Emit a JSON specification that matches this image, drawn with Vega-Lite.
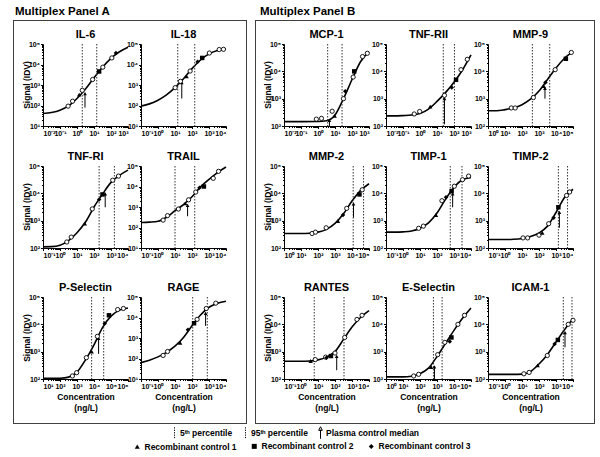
{
"$schema":"https://vega.github.io/schema/vega-lite/v6.json",
"padding":{"left":10,"top":5,"right":0,"bottom":0},
"background":"white",
"config":{
 "view":{"stroke":null},
 "font":"Liberation Sans",
 "axis":{"domainColor":"black","tickColor":"black","labelColor":"black","labelFont":"Liberation Sans","labelFontSize":7,"labelFontWeight":"bold","titleFont":"Liberation Sans","titleFontSize":8.5,"titleFontWeight":"bold","titleColor":"black","grid":false}
},
"datasets":{"all":[
{"p":"IL-6","r":"A1","k":"d","x":0.01,"y":10},{"p":"IL-6","r":"A1","k":"d","x":1000,"y":100000},
{"p":"IL-6","r":"A1","k":"c","x":0.01,"y":41},{"p":"IL-6","r":"A1","k":"c","x":0.0316,"y":46},{"p":"IL-6","r":"A1","k":"c","x":0.1,"y":59},{"p":"IL-6","r":"A1","k":"c","x":0.316,"y":95},{"p":"IL-6","r":"A1","k":"c","x":1,"y":219},{"p":"IL-6","r":"A1","k":"c","x":3.16,"y":631},{"p":"IL-6","r":"A1","k":"c","x":10,"y":2240},{"p":"IL-6","r":"A1","k":"c","x":31.6,"y":7410},{"p":"IL-6","r":"A1","k":"c","x":100,"y":20000},{"p":"IL-6","r":"A1","k":"c","x":316,"y":41700},{"p":"IL-6","r":"A1","k":"c","x":1000,"y":69200},
{"p":"IL-6","r":"A1","k":"s","x":0.3,"y":93},{"p":"IL-6","r":"A1","k":"s","x":0.55,"y":162},{"p":"IL-6","r":"A1","k":"s","x":2.04,"y":550},{"p":"IL-6","r":"A1","k":"s","x":8.3,"y":1860},{"p":"IL-6","r":"A1","k":"s","x":33,"y":7400},{"p":"IL-6","r":"A1","k":"s","x":112,"y":20900},
{"p":"IL-6","r":"A1","k":"r1","x":1.35,"y":339},{"p":"IL-6","r":"A1","k":"r2","x":20,"y":4570},{"p":"IL-6","r":"A1","k":"r3","x":195,"y":36300},
{"p":"IL-6","r":"A1","k":"p","x":2.04},{"p":"IL-6","r":"A1","k":"p","x":14.5},{"p":"IL-6","r":"A1","k":"a","x":2.95,"y":79,"y2":380},
{"p":"IL-18","r":"A1","k":"d","x":0.1,"y":10},{"p":"IL-18","r":"A1","k":"d","x":10000,"y":100000},
{"p":"IL-18","r":"A1","k":"c","x":0.1,"y":93},{"p":"IL-18","r":"A1","k":"c","x":0.316,"y":120},{"p":"IL-18","r":"A1","k":"c","x":1,"y":182},{"p":"IL-18","r":"A1","k":"c","x":3.16,"y":331},{"p":"IL-18","r":"A1","k":"c","x":10,"y":741},{"p":"IL-18","r":"A1","k":"c","x":31.6,"y":2000},{"p":"IL-18","r":"A1","k":"c","x":100,"y":6310},{"p":"IL-18","r":"A1","k":"c","x":316,"y":16600},{"p":"IL-18","r":"A1","k":"c","x":1000,"y":33100},{"p":"IL-18","r":"A1","k":"c","x":3160,"y":47900},{"p":"IL-18","r":"A1","k":"c","x":10000,"y":57500},
{"p":"IL-18","r":"A1","k":"s","x":10.2,"y":741},{"p":"IL-18","r":"A1","k":"s","x":20.9,"y":1510},{"p":"IL-18","r":"A1","k":"s","x":77.6,"y":4790},{"p":"IL-18","r":"A1","k":"s","x":1047,"y":36300},{"p":"IL-18","r":"A1","k":"s","x":3981,"y":53700},{"p":"IL-18","r":"A1","k":"s","x":7079,"y":55000},
{"p":"IL-18","r":"A1","k":"r1","x":47.9,"y":2630},{"p":"IL-18","r":"A1","k":"r2","x":398,"y":20900},{"p":"IL-18","r":"A1","k":"r3","x":214,"y":13500},
{"p":"IL-18","r":"A1","k":"p","x":14.5},{"p":"IL-18","r":"A1","k":"p","x":145},{"p":"IL-18","r":"A1","k":"a","x":25.1,"y":219,"y2":1290},
{"p":"TNF-RI","r":"A2","k":"d","x":0.1,"y":100},{"p":"TNF-RI","r":"A2","k":"d","x":10000,"y":100000},
{"p":"TNF-RI","r":"A2","k":"c","x":0.1,"y":110},{"p":"TNF-RI","r":"A2","k":"c","x":0.316,"y":112},{"p":"TNF-RI","r":"A2","k":"c","x":1,"y":126},{"p":"TNF-RI","r":"A2","k":"c","x":3.16,"y":186},{"p":"TNF-RI","r":"A2","k":"c","x":10,"y":363},{"p":"TNF-RI","r":"A2","k":"c","x":31.6,"y":891},{"p":"TNF-RI","r":"A2","k":"c","x":100,"y":3160},{"p":"TNF-RI","r":"A2","k":"c","x":316,"y":9330},{"p":"TNF-RI","r":"A2","k":"c","x":1000,"y":25100},{"p":"TNF-RI","r":"A2","k":"c","x":3160,"y":45700},{"p":"TNF-RI","r":"A2","k":"c","x":10000,"y":70800},
{"p":"TNF-RI","r":"A2","k":"s","x":2.51,"y":166},{"p":"TNF-RI","r":"A2","k":"s","x":4.57,"y":251},{"p":"TNF-RI","r":"A2","k":"s","x":79,"y":2690},{"p":"TNF-RI","r":"A2","k":"s","x":1259,"y":30200},{"p":"TNF-RI","r":"A2","k":"s","x":2754,"y":42700},
{"p":"TNF-RI","r":"A2","k":"r1","x":28.8,"y":776},{"p":"TNF-RI","r":"A2","k":"r2","x":316,"y":9120},{"p":"TNF-RI","r":"A2","k":"r3","x":200,"y":5890},
{"p":"TNF-RI","r":"A2","k":"p","x":200},{"p":"TNF-RI","r":"A2","k":"p","x":1585},{"p":"TNF-RI","r":"A2","k":"a","x":457,"y":3090,"y2":9550},
{"p":"TRAIL","r":"A2","k":"d","x":0.1,"y":10},{"p":"TRAIL","r":"A2","k":"d","x":10000,"y":100000},
{"p":"TRAIL","r":"A2","k":"c","x":0.1,"y":174},{"p":"TRAIL","r":"A2","k":"c","x":0.316,"y":182},{"p":"TRAIL","r":"A2","k":"c","x":1,"y":200},{"p":"TRAIL","r":"A2","k":"c","x":3.16,"y":316},{"p":"TRAIL","r":"A2","k":"c","x":10,"y":661},{"p":"TRAIL","r":"A2","k":"c","x":31.6,"y":1320},{"p":"TRAIL","r":"A2","k":"c","x":100,"y":3160},{"p":"TRAIL","r":"A2","k":"c","x":316,"y":9550},{"p":"TRAIL","r":"A2","k":"c","x":1000,"y":22400},{"p":"TRAIL","r":"A2","k":"c","x":3160,"y":47900},{"p":"TRAIL","r":"A2","k":"c","x":10000,"y":89100},
{"p":"TRAIL","r":"A2","k":"s","x":2.0,"y":229},{"p":"TRAIL","r":"A2","k":"s","x":3.63,"y":380},{"p":"TRAIL","r":"A2","k":"s","x":15.8,"y":794},{"p":"TRAIL","r":"A2","k":"s","x":63,"y":2240},{"p":"TRAIL","r":"A2","k":"s","x":166,"y":5370},{"p":"TRAIL","r":"A2","k":"s","x":1778,"y":25100},{"p":"TRAIL","r":"A2","k":"s","x":3631,"y":55000},
{"p":"TRAIL","r":"A2","k":"r1","x":39.8,"y":1510},{"p":"TRAIL","r":"A2","k":"r2","x":501,"y":10000},{"p":"TRAIL","r":"A2","k":"r3","x":275,"y":8710},
{"p":"TRAIL","r":"A2","k":"p","x":10},{"p":"TRAIL","r":"A2","k":"p","x":145},{"p":"TRAIL","r":"A2","k":"a","x":55,"y":355,"y2":1200},
{"p":"P-Selectin","r":"A3","k":"d","x":10,"y":100},{"p":"P-Selectin","r":"A3","k":"d","x":1000000,"y":100000},
{"p":"P-Selectin","r":"A3","k":"c","x":10,"y":105},{"p":"P-Selectin","r":"A3","k":"c","x":31.6,"y":105},{"p":"P-Selectin","r":"A3","k":"c","x":100,"y":107},{"p":"P-Selectin","r":"A3","k":"c","x":316,"y":117},{"p":"P-Selectin","r":"A3","k":"c","x":1000,"y":178},{"p":"P-Selectin","r":"A3","k":"c","x":3160,"y":501},{"p":"P-Selectin","r":"A3","k":"c","x":10000,"y":1780},{"p":"P-Selectin","r":"A3","k":"c","x":31600,"y":7590},{"p":"P-Selectin","r":"A3","k":"c","x":100000,"y":19950},{"p":"P-Selectin","r":"A3","k":"c","x":316000,"y":33100},{"p":"P-Selectin","r":"A3","k":"c","x":1000000,"y":39800},
{"p":"P-Selectin","r":"A3","k":"s","x":537,"y":129},{"p":"P-Selectin","r":"A3","k":"s","x":955,"y":170},{"p":"P-Selectin","r":"A3","k":"s","x":3548,"y":603},{"p":"P-Selectin","r":"A3","k":"s","x":15850,"y":3630},{"p":"P-Selectin","r":"A3","k":"s","x":245500,"y":34700},{"p":"P-Selectin","r":"A3","k":"s","x":537000,"y":38000},
{"p":"P-Selectin","r":"A3","k":"r1","x":7244,"y":1000},{"p":"P-Selectin","r":"A3","k":"r2","x":75860,"y":21400},{"p":"P-Selectin","r":"A3","k":"r3","x":42660,"y":10700},
{"p":"P-Selectin","r":"A3","k":"p","x":7244},{"p":"P-Selectin","r":"A3","k":"p","x":37150},{"p":"P-Selectin","r":"A3","k":"a","x":18620,"y":832,"y2":3090},
{"p":"RAGE","r":"A3","k":"d","x":0.1,"y":10},{"p":"RAGE","r":"A3","k":"d","x":10000,"y":100000},
{"p":"RAGE","r":"A3","k":"c","x":0.1,"y":63},{"p":"RAGE","r":"A3","k":"c","x":0.316,"y":83},{"p":"RAGE","r":"A3","k":"c","x":1,"y":120},{"p":"RAGE","r":"A3","k":"c","x":3.16,"y":200},{"p":"RAGE","r":"A3","k":"c","x":10,"y":398},{"p":"RAGE","r":"A3","k":"c","x":31.6,"y":1047},{"p":"RAGE","r":"A3","k":"c","x":100,"y":3980},{"p":"RAGE","r":"A3","k":"c","x":316,"y":13200},{"p":"RAGE","r":"A3","k":"c","x":1000,"y":31600},{"p":"RAGE","r":"A3","k":"c","x":3160,"y":50100},{"p":"RAGE","r":"A3","k":"c","x":10000,"y":61700},
{"p":"RAGE","r":"A3","k":"s","x":2.0,"y":141},{"p":"RAGE","r":"A3","k":"s","x":3.63,"y":219},{"p":"RAGE","r":"A3","k":"s","x":200,"y":8130},{"p":"RAGE","r":"A3","k":"s","x":692,"y":27500},{"p":"RAGE","r":"A3","k":"s","x":2512,"y":50100},
{"p":"RAGE","r":"A3","k":"r1","x":20,"y":575},{"p":"RAGE","r":"A3","k":"r2","x":132,"y":5250},{"p":"RAGE","r":"A3","k":"r3","x":57.5,"y":2510},
{"p":"RAGE","r":"A3","k":"p","x":110},{"p":"RAGE","r":"A3","k":"p","x":794},{"p":"RAGE","r":"A3","k":"a","x":631,"y":3890,"y2":15850},
{"p":"MCP-1","r":"B1","k":"d","x":0.01,"y":100},{"p":"MCP-1","r":"B1","k":"d","x":1000,"y":100000},
{"p":"MCP-1","r":"B1","k":"c","x":0.01,"y":145},{"p":"MCP-1","r":"B1","k":"c","x":0.1,"y":145},{"p":"MCP-1","r":"B1","k":"c","x":1,"y":147},{"p":"MCP-1","r":"B1","k":"c","x":3.16,"y":155},{"p":"MCP-1","r":"B1","k":"c","x":10,"y":251},{"p":"MCP-1","r":"B1","k":"c","x":31.6,"y":1000},{"p":"MCP-1","r":"B1","k":"c","x":100,"y":5010},{"p":"MCP-1","r":"B1","k":"c","x":316,"y":22400},{"p":"MCP-1","r":"B1","k":"c","x":1000,"y":52500},
{"p":"MCP-1","r":"B1","k":"s","x":0.8,"y":178},{"p":"MCP-1","r":"B1","k":"s","x":1.6,"y":190},{"p":"MCP-1","r":"B1","k":"s","x":6.8,"y":347},{"p":"MCP-1","r":"B1","k":"s","x":31.6,"y":1000},{"p":"MCP-1","r":"B1","k":"s","x":117,"y":6170},{"p":"MCP-1","r":"B1","k":"s","x":417,"y":34700},{"p":"MCP-1","r":"B1","k":"s","x":794,"y":45700},
{"p":"MCP-1","r":"B1","k":"r1","x":9.5,"y":234},{"p":"MCP-1","r":"B1","k":"r2","x":135,"y":10000},{"p":"MCP-1","r":"B1","k":"r3","x":40,"y":1860},
{"p":"MCP-1","r":"B1","k":"p","x":3.7},{"p":"MCP-1","r":"B1","k":"p","x":26},{"p":"MCP-1","r":"B1","k":"a","x":4.7,"y":100,"y2":160},
{"p":"TNF-RII","r":"B1","k":"d","x":0.01,"y":100},{"p":"TNF-RII","r":"B1","k":"d","x":1000,"y":100000},
{"p":"TNF-RII","r":"B1","k":"c","x":0.01,"y":234},{"p":"TNF-RII","r":"B1","k":"c","x":0.0316,"y":234},{"p":"TNF-RII","r":"B1","k":"c","x":0.1,"y":240},{"p":"TNF-RII","r":"B1","k":"c","x":0.316,"y":251},{"p":"TNF-RII","r":"B1","k":"c","x":1,"y":288},{"p":"TNF-RII","r":"B1","k":"c","x":3.16,"y":417},{"p":"TNF-RII","r":"B1","k":"c","x":10,"y":794},{"p":"TNF-RII","r":"B1","k":"c","x":31.6,"y":1660},{"p":"TNF-RII","r":"B1","k":"c","x":100,"y":3980},{"p":"TNF-RII","r":"B1","k":"c","x":316,"y":11200},{"p":"TNF-RII","r":"B1","k":"c","x":1000,"y":39800},
{"p":"TNF-RII","r":"B1","k":"s","x":0.457,"y":275},{"p":"TNF-RII","r":"B1","k":"s","x":0.955,"y":339},{"p":"TNF-RII","r":"B1","k":"s","x":27.5,"y":1320},{"p":"TNF-RII","r":"B1","k":"s","x":257,"y":11500},{"p":"TNF-RII","r":"B1","k":"s","x":603,"y":27500},
{"p":"TNF-RII","r":"B1","k":"r1","x":3.98,"y":513},{"p":"TNF-RII","r":"B1","k":"r2","x":132,"y":4900},{"p":"TNF-RII","r":"B1","k":"r3","x":74,"y":2570},
{"p":"TNF-RII","r":"B1","k":"p","x":23.4},{"p":"TNF-RII","r":"B1","k":"p","x":107},{"p":"TNF-RII","r":"B1","k":"a","x":27.5,"y":115,"y2":1000},
{"p":"MMP-9","r":"B1","k":"d","x":1,"y":100},{"p":"MMP-9","r":"B1","k":"d","x":100000,"y":100000},
{"p":"MMP-9","r":"B1","k":"c","x":1,"y":363},{"p":"MMP-9","r":"B1","k":"c","x":3.16,"y":363},{"p":"MMP-9","r":"B1","k":"c","x":10,"y":398},{"p":"MMP-9","r":"B1","k":"c","x":31.6,"y":457},{"p":"MMP-9","r":"B1","k":"c","x":100,"y":603},{"p":"MMP-9","r":"B1","k":"c","x":316,"y":955},{"p":"MMP-9","r":"B1","k":"c","x":1000,"y":1905},{"p":"MMP-9","r":"B1","k":"c","x":3162,"y":5010},{"p":"MMP-9","r":"B1","k":"c","x":10000,"y":13200},{"p":"MMP-9","r":"B1","k":"c","x":31620,"y":30200},{"p":"MMP-9","r":"B1","k":"c","x":100000,"y":52500},
{"p":"MMP-9","r":"B1","k":"s","x":23.4,"y":457},{"p":"MMP-9","r":"B1","k":"s","x":39.8,"y":457},{"p":"MMP-9","r":"B1","k":"s","x":468,"y":1100},{"p":"MMP-9","r":"B1","k":"s","x":8913,"y":11500},{"p":"MMP-9","r":"B1","k":"s","x":79430,"y":49000},
{"p":"MMP-9","r":"B1","k":"r1","x":1905,"y":2880},{"p":"MMP-9","r":"B1","k":"r2","x":38020,"y":28800},{"p":"MMP-9","r":"B1","k":"r3","x":2399,"y":3890},
{"p":"MMP-9","r":"B1","k":"p","x":407},{"p":"MMP-9","r":"B1","k":"p","x":4266},{"p":"MMP-9","r":"B1","k":"a","x":2240,"y":1000,"y2":2400},
{"p":"MMP-2","r":"B2","k":"d","x":1,"y":100},{"p":"MMP-2","r":"B2","k":"d","x":100000,"y":100000},
{"p":"MMP-2","r":"B2","k":"c","x":1,"y":339},{"p":"MMP-2","r":"B2","k":"c","x":3.16,"y":339},{"p":"MMP-2","r":"B2","k":"c","x":10,"y":339},{"p":"MMP-2","r":"B2","k":"c","x":31.6,"y":347},{"p":"MMP-2","r":"B2","k":"c","x":100,"y":380},{"p":"MMP-2","r":"B2","k":"c","x":316,"y":479},{"p":"MMP-2","r":"B2","k":"c","x":1000,"y":794},{"p":"MMP-2","r":"B2","k":"c","x":3162,"y":1780},{"p":"MMP-2","r":"B2","k":"c","x":10000,"y":5250},{"p":"MMP-2","r":"B2","k":"c","x":31620,"y":12600},{"p":"MMP-2","r":"B2","k":"c","x":100000,"y":22400},
{"p":"MMP-2","r":"B2","k":"s","x":44.7,"y":339},{"p":"MMP-2","r":"B2","k":"s","x":70.8,"y":380},{"p":"MMP-2","r":"B2","k":"s","x":302,"y":550},{"p":"MMP-2","r":"B2","k":"s","x":4898,"y":2820},{"p":"MMP-2","r":"B2","k":"s","x":39810,"y":13500},
{"p":"MMP-2","r":"B2","k":"r1","x":1479,"y":977},{"p":"MMP-2","r":"B2","k":"r2","x":27540,"y":9120},{"p":"MMP-2","r":"B2","k":"r3","x":2951,"y":1620},
{"p":"MMP-2","r":"B2","k":"p","x":11750},{"p":"MMP-2","r":"B2","k":"p","x":47860},{"p":"MMP-2","r":"B2","k":"a","x":12300,"y":1320,"y2":4070},
{"p":"TIMP-1","r":"B2","k":"d","x":0.1,"y":100},{"p":"TIMP-1","r":"B2","k":"d","x":10000,"y":100000},
{"p":"TIMP-1","r":"B2","k":"c","x":0.1,"y":380},{"p":"TIMP-1","r":"B2","k":"c","x":0.316,"y":380},{"p":"TIMP-1","r":"B2","k":"c","x":1,"y":389},{"p":"TIMP-1","r":"B2","k":"c","x":3.16,"y":417},{"p":"TIMP-1","r":"B2","k":"c","x":10,"y":525},{"p":"TIMP-1","r":"B2","k":"c","x":31.6,"y":832},{"p":"TIMP-1","r":"B2","k":"c","x":100,"y":1905},{"p":"TIMP-1","r":"B2","k":"c","x":316,"y":6030},{"p":"TIMP-1","r":"B2","k":"c","x":1000,"y":16600},{"p":"TIMP-1","r":"B2","k":"c","x":3162,"y":31600},{"p":"TIMP-1","r":"B2","k":"c","x":10000,"y":38000},
{"p":"TIMP-1","r":"B2","k":"s","x":8.3,"y":525},{"p":"TIMP-1","r":"B2","k":"s","x":15.8,"y":631},{"p":"TIMP-1","r":"B2","k":"s","x":195,"y":5370},{"p":"TIMP-1","r":"B2","k":"s","x":1047,"y":18200},{"p":"TIMP-1","r":"B2","k":"s","x":3162,"y":31600},{"p":"TIMP-1","r":"B2","k":"s","x":7244,"y":42700},
{"p":"TIMP-1","r":"B2","k":"r1","x":87,"y":1620},{"p":"TIMP-1","r":"B2","k":"r2","x":724,"y":12000},{"p":"TIMP-1","r":"B2","k":"r3","x":339,"y":7240},
{"p":"TIMP-1","r":"B2","k":"p","x":603},{"p":"TIMP-1","r":"B2","k":"p","x":2951},{"p":"TIMP-1","r":"B2","k":"a","x":832,"y":3090,"y2":9550},
{"p":"TIMP-2","r":"B2","k":"d","x":0.1,"y":100},{"p":"TIMP-2","r":"B2","k":"d","x":10000,"y":100000},
{"p":"TIMP-2","r":"B2","k":"c","x":0.1,"y":204},{"p":"TIMP-2","r":"B2","k":"c","x":0.316,"y":204},{"p":"TIMP-2","r":"B2","k":"c","x":1,"y":204},{"p":"TIMP-2","r":"B2","k":"c","x":3.16,"y":209},{"p":"TIMP-2","r":"B2","k":"c","x":10,"y":224},{"p":"TIMP-2","r":"B2","k":"c","x":31.6,"y":263},{"p":"TIMP-2","r":"B2","k":"c","x":100,"y":355},{"p":"TIMP-2","r":"B2","k":"c","x":316,"y":631},{"p":"TIMP-2","r":"B2","k":"c","x":1000,"y":1995},{"p":"TIMP-2","r":"B2","k":"c","x":3162,"y":7080},{"p":"TIMP-2","r":"B2","k":"c","x":10000,"y":14100},
{"p":"TIMP-2","r":"B2","k":"s","x":11.5,"y":234},{"p":"TIMP-2","r":"B2","k":"s","x":21.4,"y":234},{"p":"TIMP-2","r":"B2","k":"s","x":100,"y":295},{"p":"TIMP-2","r":"B2","k":"s","x":372,"y":776},{"p":"TIMP-2","r":"B2","k":"s","x":4169,"y":8320},{"p":"TIMP-2","r":"B2","k":"s","x":6310,"y":11200},
{"p":"TIMP-2","r":"B2","k":"r1","x":155,"y":363},{"p":"TIMP-2","r":"B2","k":"r2","x":1380,"y":3090},{"p":"TIMP-2","r":"B2","k":"r3","x":724,"y":1290},
{"p":"TIMP-2","r":"B2","k":"p","x":1380},{"p":"TIMP-2","r":"B2","k":"p","x":4786},{"p":"TIMP-2","r":"B2","k":"a","x":1585,"y":550,"y2":2000},
{"p":"RANTES","r":"B3","k":"d","x":0.1,"y":100},{"p":"RANTES","r":"B3","k":"d","x":10000,"y":100000},
{"p":"RANTES","r":"B3","k":"c","x":0.1,"y":447},{"p":"RANTES","r":"B3","k":"c","x":0.316,"y":447},{"p":"RANTES","r":"B3","k":"c","x":1,"y":447},{"p":"RANTES","r":"B3","k":"c","x":3.16,"y":457},{"p":"RANTES","r":"B3","k":"c","x":10,"y":501},{"p":"RANTES","r":"B3","k":"c","x":31.6,"y":631},{"p":"RANTES","r":"B3","k":"c","x":100,"y":1000},{"p":"RANTES","r":"B3","k":"c","x":316,"y":2820},{"p":"RANTES","r":"B3","k":"c","x":1000,"y":7940},{"p":"RANTES","r":"B3","k":"c","x":3162,"y":17800},{"p":"RANTES","r":"B3","k":"c","x":10000,"y":31600},
{"p":"RANTES","r":"B3","k":"s","x":6.9,"y":513},{"p":"RANTES","r":"B3","k":"s","x":28.2,"y":631},{"p":"RANTES","r":"B3","k":"s","x":100,"y":891},{"p":"RANTES","r":"B3","k":"s","x":372,"y":3310},{"p":"RANTES","r":"B3","k":"s","x":1950,"y":15100},{"p":"RANTES","r":"B3","k":"s","x":3890,"y":21400},
{"p":"RANTES","r":"B3","k":"r1","x":3.7,"y":457},{"p":"RANTES","r":"B3","k":"r2","x":57.5,"y":692},{"p":"RANTES","r":"B3","k":"r3","x":31.6,"y":603},
{"p":"RANTES","r":"B3","k":"p","x":6.0},{"p":"RANTES","r":"B3","k":"p","x":339},{"p":"RANTES","r":"B3","k":"a","x":126,"y":209,"y2":676},
{"p":"E-Selectin","r":"B3","k":"d","x":1,"y":100},{"p":"E-Selectin","r":"B3","k":"d","x":100000,"y":100000},
{"p":"E-Selectin","r":"B3","k":"c","x":1,"y":120},{"p":"E-Selectin","r":"B3","k":"c","x":3.16,"y":120},{"p":"E-Selectin","r":"B3","k":"c","x":10,"y":120},{"p":"E-Selectin","r":"B3","k":"c","x":31.6,"y":126},{"p":"E-Selectin","r":"B3","k":"c","x":100,"y":158},{"p":"E-Selectin","r":"B3","k":"c","x":316,"y":251},{"p":"E-Selectin","r":"B3","k":"c","x":1000,"y":661},{"p":"E-Selectin","r":"B3","k":"c","x":3162,"y":2000},{"p":"E-Selectin","r":"B3","k":"c","x":10000,"y":6030},{"p":"E-Selectin","r":"B3","k":"c","x":31620,"y":16600},{"p":"E-Selectin","r":"B3","k":"c","x":100000,"y":39800},
{"p":"E-Selectin","r":"B3","k":"s","x":42.7,"y":129},{"p":"E-Selectin","r":"B3","k":"s","x":83,"y":148},{"p":"E-Selectin","r":"B3","k":"s","x":1096,"y":776},{"p":"E-Selectin","r":"B3","k":"s","x":2884,"y":2190},{"p":"E-Selectin","r":"B3","k":"s","x":17000,"y":10000},{"p":"E-Selectin","r":"B3","k":"s","x":41690,"y":21400},
{"p":"E-Selectin","r":"B3","k":"r1","x":447,"y":275},{"p":"E-Selectin","r":"B3","k":"r2","x":7079,"y":3310},{"p":"E-Selectin","r":"B3","k":"r3","x":5623,"y":2340},
{"p":"E-Selectin","r":"B3","k":"p","x":617},{"p":"E-Selectin","r":"B3","k":"p","x":1995},{"p":"E-Selectin","r":"B3","k":"a","x":708,"y":100,"y2":275},
{"p":"ICAM-1","r":"B3","k":"d","x":0.1,"y":100},{"p":"ICAM-1","r":"B3","k":"d","x":10000,"y":100000},
{"p":"ICAM-1","r":"B3","k":"c","x":0.1,"y":148},{"p":"ICAM-1","r":"B3","k":"c","x":0.316,"y":148},{"p":"ICAM-1","r":"B3","k":"c","x":1,"y":148},{"p":"ICAM-1","r":"B3","k":"c","x":3.16,"y":148},{"p":"ICAM-1","r":"B3","k":"c","x":10,"y":151},{"p":"ICAM-1","r":"B3","k":"c","x":31.6,"y":186},{"p":"ICAM-1","r":"B3","k":"c","x":100,"y":355},{"p":"ICAM-1","r":"B3","k":"c","x":316,"y":794},{"p":"ICAM-1","r":"B3","k":"c","x":1000,"y":2240},{"p":"ICAM-1","r":"B3","k":"c","x":3162,"y":6310},{"p":"ICAM-1","r":"B3","k":"c","x":10000,"y":15850},
{"p":"ICAM-1","r":"B3","k":"s","x":12.9,"y":155},{"p":"ICAM-1","r":"B3","k":"s","x":26.3,"y":174},{"p":"ICAM-1","r":"B3","k":"s","x":309,"y":724},{"p":"ICAM-1","r":"B3","k":"s","x":5248,"y":10000},{"p":"ICAM-1","r":"B3","k":"s","x":10000,"y":14100},
{"p":"ICAM-1","r":"B3","k":"r1","x":83,"y":316},{"p":"ICAM-1","r":"B3","k":"r2","x":1288,"y":2690},{"p":"ICAM-1","r":"B3","k":"r3","x":832,"y":1905},
{"p":"ICAM-1","r":"B3","k":"p","x":2692},{"p":"ICAM-1","r":"B3","k":"p","x":8710},{"p":"ICAM-1","r":"B3","k":"a","x":3388,"y":1445,"y2":5010}
]},
"vconcat":[
 {"hconcat":[
  {"title":{"text":"Multiplex Panel A","anchor":"start","fontSize":11.5,"fontWeight":"bold","font":"Liberation Sans","color":"black","offset":3,"dx":2},
   "hconcat":[
    {"width":1,"height":404,"data":{"values":[]},"mark":"point","view":{"fill":"#404040","stroke":null}},
    {"vconcat":[
      {"width":232,"height":1,"data":{"values":[]},"mark":"point","view":{"fill":"#404040","stroke":null}},
      {"hconcat":[
        {"width":1,"height":402,"data":{"values":[]},"mark":"point"},
        {"vconcat":[
          {"width":1,"height":1,"data":{"values":[]},"mark":"point"},
          {"vconcat":[
            {"vconcat":[
              {"data":{"name":"all"},"transform":[{"filter":"datum.r=='A1'"}],
               "facet":{"row":{"field":"r","type":"nominal","header":{"title":null,"labelExpr":"'Signal (IDV)'","labelAngle":-90,"labelOrient":"left","labelFontSize":8.5,"labelFontWeight":"bold","labelFont":"Liberation Sans","labelColor":"black","labelPadding":8}},
                        "column":{"field":"p","type":"nominal","sort":["IL-6","IL-18"],"header":{"title":null,"labelFontSize":11,"labelFontWeight":"bold","labelFont":"Liberation Sans","labelColor":"black","labelPadding":4}}},
               "bounds":"flush","spacing":{"column":13,"row":0},
               "resolve":{"scale":{"x":"independent","y":"independent"}},
               "spec":{"width":85,"height":82,"resolve":{"axis":{"x":"independent","y":"independent"}},"layer":[
                 {"transform":[{"filter":"datum.k=='d'"}],"mark":{"type":"point","opacity":0},"encoding":{"x":{"field":"x","type":"quantitative","scale":{"type":"log","nice":false},"axis":{"orient":"bottom","title":null,"values":[0.01,0.1,1,10,100,1000,10000,100000,1000000],"tickCount":100,"labelExpr":"'10'+(datum.value<0.9?'⁻':'')+substring('⁰¹²³⁴⁵⁶⁷⁸⁹',abs(round(log(datum.value)/LN10)),abs(round(log(datum.value)/LN10))+1)","tickSize":2.5,"labelOverlap":false,"labelBound":false,"labelPadding":1}},"y":{"field":"y","type":"quantitative","scale":{"type":"log","nice":false},"axis":{"orient":"left","title":null,"values":[10,100,1000,10000,100000],"tickCount":100,"labelExpr":"'10'+(datum.value<0.9?'⁻':'')+substring('⁰¹²³⁴⁵⁶⁷⁸⁹',abs(round(log(datum.value)/LN10)),abs(round(log(datum.value)/LN10))+1)","tickSize":2.5,"labelOverlap":false,"labelBound":false,"labelPadding":1}}}},
                 {"transform":[{"filter":"datum.k=='c'"}],"mark":{"type":"line","interpolate":"monotone","color":"black","strokeWidth":1.6},"encoding":{"x":{"field":"x","type":"quantitative","scale":{"type":"log"},"axis":{"orient":"bottom","title":null,"values":[0.02,0.03,0.04,0.05,0.06,0.07,0.08,0.09,0.2,0.3,0.4,0.5,0.6,0.7,0.8,0.9,2,3,4,5,6,7,8,9,20,30,40,50,60,70,80,90,200,300,400,500,600,700,800,900,2000,3000,4000,5000,6000,7000,8000,9000,20000,30000,40000,50000,60000,70000,80000,90000,200000,300000,400000,500000,600000,700000,800000,900000],"tickCount":100,"labels":false,"domain":false,"tickSize":1.5}},"y":{"field":"y","type":"quantitative","scale":{"type":"log"},"axis":{"orient":"left","title":null,"values":[20,30,40,50,60,70,80,90,200,300,400,500,600,700,800,900,2000,3000,4000,5000,6000,7000,8000,9000,20000,30000,40000,50000,60000,70000,80000,90000],"tickCount":100,"labels":false,"domain":false,"tickSize":1.5}}}},
                 {"transform":[{"filter":"datum.k=='p'"}],"mark":{"type":"rule","strokeDash":[1.5,1.5],"strokeWidth":1,"color":"#333"},"encoding":{"x":{"field":"x","type":"quantitative","scale":{"type":"log"},"axis":null}}},
                 {"transform":[{"filter":"datum.k=='a'"}],"mark":{"type":"rule","color":"black","strokeWidth":1},"encoding":{"x":{"field":"x","type":"quantitative","scale":{"type":"log"},"axis":null},"y":{"field":"y","type":"quantitative","scale":{"type":"log"},"axis":null},"y2":{"field":"y2"}}},
                 {"transform":[{"filter":"datum.k=='a'"}],"mark":{"type":"point","shape":"triangle-up","filled":true,"color":"black","size":14,"opacity":1},"encoding":{"x":{"field":"x","type":"quantitative","scale":{"type":"log"},"axis":null},"y":{"field":"y2","type":"quantitative","scale":{"type":"log"},"axis":null}}},
                 {"transform":[{"filter":"datum.k=='s'"}],"mark":{"type":"point","shape":"circle","filled":true,"fill":"white","stroke":"black","strokeWidth":0.9,"size":18,"opacity":1},"encoding":{"x":{"field":"x","type":"quantitative","scale":{"type":"log"},"axis":null},"y":{"field":"y","type":"quantitative","scale":{"type":"log"},"axis":null}}},
                 {"transform":[{"filter":"datum.k=='r1'||datum.k=='r2'||datum.k=='r3'"}],"mark":{"type":"point","filled":true,"color":"black","size":20,"opacity":1},"encoding":{"x":{"field":"x","type":"quantitative","scale":{"type":"log"},"axis":null},"y":{"field":"y","type":"quantitative","scale":{"type":"log"},"axis":null},"shape":{"field":"k","type":"nominal","scale":{"domain":["r1","r2","r3"],"range":["triangle-up","square","diamond"]},"legend":null}}}
               ]}},
              {"data":{"name":"all"},"transform":[{"filter":"datum.r=='A2'"}],
               "facet":{"row":{"field":"r","type":"nominal","header":{"title":null,"labelExpr":"'Signal (IDV)'","labelAngle":-90,"labelOrient":"left","labelFontSize":8.5,"labelFontWeight":"bold","labelFont":"Liberation Sans","labelColor":"black","labelPadding":8}},
                        "column":{"field":"p","type":"nominal","sort":["TNF-RI","TRAIL"],"header":{"title":null,"labelFontSize":11,"labelFontWeight":"bold","labelFont":"Liberation Sans","labelColor":"black","labelPadding":4}}},
               "bounds":"flush","spacing":{"column":13,"row":0},
               "resolve":{"scale":{"x":"independent","y":"independent"}},
               "spec":{"width":85,"height":82,"resolve":{"axis":{"x":"independent","y":"independent"}},"layer":[
                 {"transform":[{"filter":"datum.k=='d'"}],"mark":{"type":"point","opacity":0},"encoding":{"x":{"field":"x","type":"quantitative","scale":{"type":"log","nice":false},"axis":{"orient":"bottom","title":null,"values":[0.01,0.1,1,10,100,1000,10000,100000,1000000],"tickCount":100,"labelExpr":"'10'+(datum.value<0.9?'⁻':'')+substring('⁰¹²³⁴⁵⁶⁷⁸⁹',abs(round(log(datum.value)/LN10)),abs(round(log(datum.value)/LN10))+1)","tickSize":2.5,"labelOverlap":false,"labelBound":false,"labelPadding":1}},"y":{"field":"y","type":"quantitative","scale":{"type":"log","nice":false},"axis":{"orient":"left","title":null,"values":[10,100,1000,10000,100000],"tickCount":100,"labelExpr":"'10'+(datum.value<0.9?'⁻':'')+substring('⁰¹²³⁴⁵⁶⁷⁸⁹',abs(round(log(datum.value)/LN10)),abs(round(log(datum.value)/LN10))+1)","tickSize":2.5,"labelOverlap":false,"labelBound":false,"labelPadding":1}}}},
                 {"transform":[{"filter":"datum.k=='c'"}],"mark":{"type":"line","interpolate":"monotone","color":"black","strokeWidth":1.6},"encoding":{"x":{"field":"x","type":"quantitative","scale":{"type":"log"},"axis":{"orient":"bottom","title":null,"values":[0.02,0.03,0.04,0.05,0.06,0.07,0.08,0.09,0.2,0.3,0.4,0.5,0.6,0.7,0.8,0.9,2,3,4,5,6,7,8,9,20,30,40,50,60,70,80,90,200,300,400,500,600,700,800,900,2000,3000,4000,5000,6000,7000,8000,9000,20000,30000,40000,50000,60000,70000,80000,90000,200000,300000,400000,500000,600000,700000,800000,900000],"tickCount":100,"labels":false,"domain":false,"tickSize":1.5}},"y":{"field":"y","type":"quantitative","scale":{"type":"log"},"axis":{"orient":"left","title":null,"values":[20,30,40,50,60,70,80,90,200,300,400,500,600,700,800,900,2000,3000,4000,5000,6000,7000,8000,9000,20000,30000,40000,50000,60000,70000,80000,90000],"tickCount":100,"labels":false,"domain":false,"tickSize":1.5}}}},
                 {"transform":[{"filter":"datum.k=='p'"}],"mark":{"type":"rule","strokeDash":[1.5,1.5],"strokeWidth":1,"color":"#333"},"encoding":{"x":{"field":"x","type":"quantitative","scale":{"type":"log"},"axis":null}}},
                 {"transform":[{"filter":"datum.k=='a'"}],"mark":{"type":"rule","color":"black","strokeWidth":1},"encoding":{"x":{"field":"x","type":"quantitative","scale":{"type":"log"},"axis":null},"y":{"field":"y","type":"quantitative","scale":{"type":"log"},"axis":null},"y2":{"field":"y2"}}},
                 {"transform":[{"filter":"datum.k=='a'"}],"mark":{"type":"point","shape":"triangle-up","filled":true,"color":"black","size":14,"opacity":1},"encoding":{"x":{"field":"x","type":"quantitative","scale":{"type":"log"},"axis":null},"y":{"field":"y2","type":"quantitative","scale":{"type":"log"},"axis":null}}},
                 {"transform":[{"filter":"datum.k=='s'"}],"mark":{"type":"point","shape":"circle","filled":true,"fill":"white","stroke":"black","strokeWidth":0.9,"size":18,"opacity":1},"encoding":{"x":{"field":"x","type":"quantitative","scale":{"type":"log"},"axis":null},"y":{"field":"y","type":"quantitative","scale":{"type":"log"},"axis":null}}},
                 {"transform":[{"filter":"datum.k=='r1'||datum.k=='r2'||datum.k=='r3'"}],"mark":{"type":"point","filled":true,"color":"black","size":20,"opacity":1},"encoding":{"x":{"field":"x","type":"quantitative","scale":{"type":"log"},"axis":null},"y":{"field":"y","type":"quantitative","scale":{"type":"log"},"axis":null},"shape":{"field":"k","type":"nominal","scale":{"domain":["r1","r2","r3"],"range":["triangle-up","square","diamond"]},"legend":null}}}
               ]}}
            ],"spacing":14},
            {"data":{"name":"all"},"transform":[{"filter":"datum.r=='A3'"}],
             "facet":{"row":{"field":"r","type":"nominal","header":{"title":null,"labelExpr":"'Signal (IDV)'","labelAngle":-90,"labelOrient":"left","labelFontSize":8.5,"labelFontWeight":"bold","labelFont":"Liberation Sans","labelColor":"black","labelPadding":8}},
                      "column":{"field":"p","type":"nominal","sort":["P-Selectin","RAGE"],"header":{"title":null,"labelFontSize":11,"labelFontWeight":"bold","labelFont":"Liberation Sans","labelColor":"black","labelPadding":4}}},
             "bounds":"flush","spacing":{"column":13,"row":0},
             "resolve":{"scale":{"x":"independent","y":"independent"}},
             "spec":{"width":85,"height":82,"resolve":{"axis":{"x":"independent","y":"independent"}},"layer":[
               {"transform":[{"filter":"datum.k=='d'"}],"mark":{"type":"point","opacity":0},"encoding":{"x":{"field":"x","type":"quantitative","scale":{"type":"log","nice":false},"axis":{"orient":"bottom","title":["Concentration","(ng/L)"],"titlePadding":3,"values":[0.01,0.1,1,10,100,1000,10000,100000,1000000],"tickCount":100,"labelExpr":"'10'+(datum.value<0.9?'⁻':'')+substring('⁰¹²³⁴⁵⁶⁷⁸⁹',abs(round(log(datum.value)/LN10)),abs(round(log(datum.value)/LN10))+1)","tickSize":2.5,"labelOverlap":false,"labelBound":false,"labelPadding":1}},"y":{"field":"y","type":"quantitative","scale":{"type":"log","nice":false},"axis":{"orient":"left","title":null,"values":[10,100,1000,10000,100000],"tickCount":100,"labelExpr":"'10'+(datum.value<0.9?'⁻':'')+substring('⁰¹²³⁴⁵⁶⁷⁸⁹',abs(round(log(datum.value)/LN10)),abs(round(log(datum.value)/LN10))+1)","tickSize":2.5,"labelOverlap":false,"labelBound":false,"labelPadding":1}}}},
               {"transform":[{"filter":"datum.k=='c'"}],"mark":{"type":"line","interpolate":"monotone","color":"black","strokeWidth":1.6},"encoding":{"x":{"field":"x","type":"quantitative","scale":{"type":"log"},"axis":{"orient":"bottom","title":null,"values":[0.02,0.03,0.04,0.05,0.06,0.07,0.08,0.09,0.2,0.3,0.4,0.5,0.6,0.7,0.8,0.9,2,3,4,5,6,7,8,9,20,30,40,50,60,70,80,90,200,300,400,500,600,700,800,900,2000,3000,4000,5000,6000,7000,8000,9000,20000,30000,40000,50000,60000,70000,80000,90000,200000,300000,400000,500000,600000,700000,800000,900000],"tickCount":100,"labels":false,"domain":false,"tickSize":1.5}},"y":{"field":"y","type":"quantitative","scale":{"type":"log"},"axis":{"orient":"left","title":null,"values":[20,30,40,50,60,70,80,90,200,300,400,500,600,700,800,900,2000,3000,4000,5000,6000,7000,8000,9000,20000,30000,40000,50000,60000,70000,80000,90000],"tickCount":100,"labels":false,"domain":false,"tickSize":1.5}}}},
               {"transform":[{"filter":"datum.k=='p'"}],"mark":{"type":"rule","strokeDash":[1.5,1.5],"strokeWidth":1,"color":"#333"},"encoding":{"x":{"field":"x","type":"quantitative","scale":{"type":"log"},"axis":null}}},
               {"transform":[{"filter":"datum.k=='a'"}],"mark":{"type":"rule","color":"black","strokeWidth":1},"encoding":{"x":{"field":"x","type":"quantitative","scale":{"type":"log"},"axis":null},"y":{"field":"y","type":"quantitative","scale":{"type":"log"},"axis":null},"y2":{"field":"y2"}}},
               {"transform":[{"filter":"datum.k=='a'"}],"mark":{"type":"point","shape":"triangle-up","filled":true,"color":"black","size":14,"opacity":1},"encoding":{"x":{"field":"x","type":"quantitative","scale":{"type":"log"},"axis":null},"y":{"field":"y2","type":"quantitative","scale":{"type":"log"},"axis":null}}},
               {"transform":[{"filter":"datum.k=='s'"}],"mark":{"type":"point","shape":"circle","filled":true,"fill":"white","stroke":"black","strokeWidth":0.9,"size":18,"opacity":1},"encoding":{"x":{"field":"x","type":"quantitative","scale":{"type":"log"},"axis":null},"y":{"field":"y","type":"quantitative","scale":{"type":"log"},"axis":null}}},
               {"transform":[{"filter":"datum.k=='r1'||datum.k=='r2'||datum.k=='r3'"}],"mark":{"type":"point","filled":true,"color":"black","size":20,"opacity":1},"encoding":{"x":{"field":"x","type":"quantitative","scale":{"type":"log"},"axis":null},"y":{"field":"y","type":"quantitative","scale":{"type":"log"},"axis":null},"shape":{"field":"k","type":"nominal","scale":{"domain":["r1","r2","r3"],"range":["triangle-up","square","diamond"]},"legend":null}}}
             ]}}
          ],"spacing":23}
        ],"spacing":7}
      ],"spacing":7},
      {"width":232,"height":1,"data":{"values":[]},"mark":"point","view":{"fill":"#404040","stroke":null}}
    ],"spacing":0},
    {"width":1,"height":404,"data":{"values":[]},"mark":"point","view":{"fill":"#404040","stroke":null}}
   ],"spacing":0},
  {"title":{"text":"Multiplex Panel B","anchor":"start","fontSize":11.5,"fontWeight":"bold","font":"Liberation Sans","color":"black","offset":3,"dx":5},
   "hconcat":[
    {"width":1,"height":404,"data":{"values":[]},"mark":"point","view":{"fill":"#404040","stroke":null}},
    {"vconcat":[
      {"width":338,"height":1,"data":{"values":[]},"mark":"point","view":{"fill":"#404040","stroke":null}},
      {"hconcat":[
        {"width":1,"height":402,"data":{"values":[]},"mark":"point"},
        {"vconcat":[
          {"width":1,"height":1,"data":{"values":[]},"mark":"point"},
          {"vconcat":[
            {"vconcat":[
              {"data":{"name":"all"},"transform":[{"filter":"datum.r=='B1'"}],
               "facet":{"row":{"field":"r","type":"nominal","header":{"title":null,"labelExpr":"'Signal (IDV)'","labelAngle":-90,"labelOrient":"left","labelFontSize":8.5,"labelFontWeight":"bold","labelFont":"Liberation Sans","labelColor":"black","labelPadding":8}},
                        "column":{"field":"p","type":"nominal","sort":["MCP-1","TNF-RII","MMP-9"],"header":{"title":null,"labelFontSize":11,"labelFontWeight":"bold","labelFont":"Liberation Sans","labelColor":"black","labelPadding":4}}},
               "bounds":"flush","spacing":{"column":17,"row":0},
               "resolve":{"scale":{"x":"independent","y":"independent"}},
               "spec":{"width":85,"height":82,"resolve":{"axis":{"x":"independent","y":"independent"}},"layer":[
                 {"transform":[{"filter":"datum.k=='d'"}],"mark":{"type":"point","opacity":0},"encoding":{"x":{"field":"x","type":"quantitative","scale":{"type":"log","nice":false},"axis":{"orient":"bottom","title":null,"values":[0.01,0.1,1,10,100,1000,10000,100000,1000000],"tickCount":100,"labelExpr":"'10'+(datum.value<0.9?'⁻':'')+substring('⁰¹²³⁴⁵⁶⁷⁸⁹',abs(round(log(datum.value)/LN10)),abs(round(log(datum.value)/LN10))+1)","tickSize":2.5,"labelOverlap":false,"labelBound":false,"labelPadding":1}},"y":{"field":"y","type":"quantitative","scale":{"type":"log","nice":false},"axis":{"orient":"left","title":null,"values":[10,100,1000,10000,100000],"tickCount":100,"labelExpr":"'10'+(datum.value<0.9?'⁻':'')+substring('⁰¹²³⁴⁵⁶⁷⁸⁹',abs(round(log(datum.value)/LN10)),abs(round(log(datum.value)/LN10))+1)","tickSize":2.5,"labelOverlap":false,"labelBound":false,"labelPadding":1}}}},
                 {"transform":[{"filter":"datum.k=='c'"}],"mark":{"type":"line","interpolate":"monotone","color":"black","strokeWidth":1.6},"encoding":{"x":{"field":"x","type":"quantitative","scale":{"type":"log"},"axis":{"orient":"bottom","title":null,"values":[0.02,0.03,0.04,0.05,0.06,0.07,0.08,0.09,0.2,0.3,0.4,0.5,0.6,0.7,0.8,0.9,2,3,4,5,6,7,8,9,20,30,40,50,60,70,80,90,200,300,400,500,600,700,800,900,2000,3000,4000,5000,6000,7000,8000,9000,20000,30000,40000,50000,60000,70000,80000,90000,200000,300000,400000,500000,600000,700000,800000,900000],"tickCount":100,"labels":false,"domain":false,"tickSize":1.5}},"y":{"field":"y","type":"quantitative","scale":{"type":"log"},"axis":{"orient":"left","title":null,"values":[20,30,40,50,60,70,80,90,200,300,400,500,600,700,800,900,2000,3000,4000,5000,6000,7000,8000,9000,20000,30000,40000,50000,60000,70000,80000,90000],"tickCount":100,"labels":false,"domain":false,"tickSize":1.5}}}},
                 {"transform":[{"filter":"datum.k=='p'"}],"mark":{"type":"rule","strokeDash":[1.5,1.5],"strokeWidth":1,"color":"#333"},"encoding":{"x":{"field":"x","type":"quantitative","scale":{"type":"log"},"axis":null}}},
                 {"transform":[{"filter":"datum.k=='a'"}],"mark":{"type":"rule","color":"black","strokeWidth":1},"encoding":{"x":{"field":"x","type":"quantitative","scale":{"type":"log"},"axis":null},"y":{"field":"y","type":"quantitative","scale":{"type":"log"},"axis":null},"y2":{"field":"y2"}}},
                 {"transform":[{"filter":"datum.k=='a'"}],"mark":{"type":"point","shape":"triangle-up","filled":true,"color":"black","size":14,"opacity":1},"encoding":{"x":{"field":"x","type":"quantitative","scale":{"type":"log"},"axis":null},"y":{"field":"y2","type":"quantitative","scale":{"type":"log"},"axis":null}}},
                 {"transform":[{"filter":"datum.k=='s'"}],"mark":{"type":"point","shape":"circle","filled":true,"fill":"white","stroke":"black","strokeWidth":0.9,"size":18,"opacity":1},"encoding":{"x":{"field":"x","type":"quantitative","scale":{"type":"log"},"axis":null},"y":{"field":"y","type":"quantitative","scale":{"type":"log"},"axis":null}}},
                 {"transform":[{"filter":"datum.k=='r1'||datum.k=='r2'||datum.k=='r3'"}],"mark":{"type":"point","filled":true,"color":"black","size":20,"opacity":1},"encoding":{"x":{"field":"x","type":"quantitative","scale":{"type":"log"},"axis":null},"y":{"field":"y","type":"quantitative","scale":{"type":"log"},"axis":null},"shape":{"field":"k","type":"nominal","scale":{"domain":["r1","r2","r3"],"range":["triangle-up","square","diamond"]},"legend":null}}}
               ]}},
              {"data":{"name":"all"},"transform":[{"filter":"datum.r=='B2'"}],
               "facet":{"row":{"field":"r","type":"nominal","header":{"title":null,"labelExpr":"'Signal (IDV)'","labelAngle":-90,"labelOrient":"left","labelFontSize":8.5,"labelFontWeight":"bold","labelFont":"Liberation Sans","labelColor":"black","labelPadding":8}},
                        "column":{"field":"p","type":"nominal","sort":["MMP-2","TIMP-1","TIMP-2"],"header":{"title":null,"labelFontSize":11,"labelFontWeight":"bold","labelFont":"Liberation Sans","labelColor":"black","labelPadding":4}}},
               "bounds":"flush","spacing":{"column":17,"row":0},
               "resolve":{"scale":{"x":"independent","y":"independent"}},
               "spec":{"width":85,"height":82,"resolve":{"axis":{"x":"independent","y":"independent"}},"layer":[
                 {"transform":[{"filter":"datum.k=='d'"}],"mark":{"type":"point","opacity":0},"encoding":{"x":{"field":"x","type":"quantitative","scale":{"type":"log","nice":false},"axis":{"orient":"bottom","title":null,"values":[0.01,0.1,1,10,100,1000,10000,100000,1000000],"tickCount":100,"labelExpr":"'10'+(datum.value<0.9?'⁻':'')+substring('⁰¹²³⁴⁵⁶⁷⁸⁹',abs(round(log(datum.value)/LN10)),abs(round(log(datum.value)/LN10))+1)","tickSize":2.5,"labelOverlap":false,"labelBound":false,"labelPadding":1}},"y":{"field":"y","type":"quantitative","scale":{"type":"log","nice":false},"axis":{"orient":"left","title":null,"values":[10,100,1000,10000,100000],"tickCount":100,"labelExpr":"'10'+(datum.value<0.9?'⁻':'')+substring('⁰¹²³⁴⁵⁶⁷⁸⁹',abs(round(log(datum.value)/LN10)),abs(round(log(datum.value)/LN10))+1)","tickSize":2.5,"labelOverlap":false,"labelBound":false,"labelPadding":1}}}},
                 {"transform":[{"filter":"datum.k=='c'"}],"mark":{"type":"line","interpolate":"monotone","color":"black","strokeWidth":1.6},"encoding":{"x":{"field":"x","type":"quantitative","scale":{"type":"log"},"axis":{"orient":"bottom","title":null,"values":[0.02,0.03,0.04,0.05,0.06,0.07,0.08,0.09,0.2,0.3,0.4,0.5,0.6,0.7,0.8,0.9,2,3,4,5,6,7,8,9,20,30,40,50,60,70,80,90,200,300,400,500,600,700,800,900,2000,3000,4000,5000,6000,7000,8000,9000,20000,30000,40000,50000,60000,70000,80000,90000,200000,300000,400000,500000,600000,700000,800000,900000],"tickCount":100,"labels":false,"domain":false,"tickSize":1.5}},"y":{"field":"y","type":"quantitative","scale":{"type":"log"},"axis":{"orient":"left","title":null,"values":[20,30,40,50,60,70,80,90,200,300,400,500,600,700,800,900,2000,3000,4000,5000,6000,7000,8000,9000,20000,30000,40000,50000,60000,70000,80000,90000],"tickCount":100,"labels":false,"domain":false,"tickSize":1.5}}}},
                 {"transform":[{"filter":"datum.k=='p'"}],"mark":{"type":"rule","strokeDash":[1.5,1.5],"strokeWidth":1,"color":"#333"},"encoding":{"x":{"field":"x","type":"quantitative","scale":{"type":"log"},"axis":null}}},
                 {"transform":[{"filter":"datum.k=='a'"}],"mark":{"type":"rule","color":"black","strokeWidth":1},"encoding":{"x":{"field":"x","type":"quantitative","scale":{"type":"log"},"axis":null},"y":{"field":"y","type":"quantitative","scale":{"type":"log"},"axis":null},"y2":{"field":"y2"}}},
                 {"transform":[{"filter":"datum.k=='a'"}],"mark":{"type":"point","shape":"triangle-up","filled":true,"color":"black","size":14,"opacity":1},"encoding":{"x":{"field":"x","type":"quantitative","scale":{"type":"log"},"axis":null},"y":{"field":"y2","type":"quantitative","scale":{"type":"log"},"axis":null}}},
                 {"transform":[{"filter":"datum.k=='s'"}],"mark":{"type":"point","shape":"circle","filled":true,"fill":"white","stroke":"black","strokeWidth":0.9,"size":18,"opacity":1},"encoding":{"x":{"field":"x","type":"quantitative","scale":{"type":"log"},"axis":null},"y":{"field":"y","type":"quantitative","scale":{"type":"log"},"axis":null}}},
                 {"transform":[{"filter":"datum.k=='r1'||datum.k=='r2'||datum.k=='r3'"}],"mark":{"type":"point","filled":true,"color":"black","size":20,"opacity":1},"encoding":{"x":{"field":"x","type":"quantitative","scale":{"type":"log"},"axis":null},"y":{"field":"y","type":"quantitative","scale":{"type":"log"},"axis":null},"shape":{"field":"k","type":"nominal","scale":{"domain":["r1","r2","r3"],"range":["triangle-up","square","diamond"]},"legend":null}}}
               ]}}
            ],"spacing":14},
            {"data":{"name":"all"},"transform":[{"filter":"datum.r=='B3'"}],
             "facet":{"row":{"field":"r","type":"nominal","header":{"title":null,"labelExpr":"'Signal (IDV)'","labelAngle":-90,"labelOrient":"left","labelFontSize":8.5,"labelFontWeight":"bold","labelFont":"Liberation Sans","labelColor":"black","labelPadding":8}},
                      "column":{"field":"p","type":"nominal","sort":["RANTES","E-Selectin","ICAM-1"],"header":{"title":null,"labelFontSize":11,"labelFontWeight":"bold","labelFont":"Liberation Sans","labelColor":"black","labelPadding":4}}},
             "bounds":"flush","spacing":{"column":17,"row":0},
             "resolve":{"scale":{"x":"independent","y":"independent"}},
             "spec":{"width":85,"height":82,"resolve":{"axis":{"x":"independent","y":"independent"}},"layer":[
               {"transform":[{"filter":"datum.k=='d'"}],"mark":{"type":"point","opacity":0},"encoding":{"x":{"field":"x","type":"quantitative","scale":{"type":"log","nice":false},"axis":{"orient":"bottom","title":["Concentration","(ng/L)"],"titlePadding":3,"values":[0.01,0.1,1,10,100,1000,10000,100000,1000000],"tickCount":100,"labelExpr":"'10'+(datum.value<0.9?'⁻':'')+substring('⁰¹²³⁴⁵⁶⁷⁸⁹',abs(round(log(datum.value)/LN10)),abs(round(log(datum.value)/LN10))+1)","tickSize":2.5,"labelOverlap":false,"labelBound":false,"labelPadding":1}},"y":{"field":"y","type":"quantitative","scale":{"type":"log","nice":false},"axis":{"orient":"left","title":null,"values":[10,100,1000,10000,100000],"tickCount":100,"labelExpr":"'10'+(datum.value<0.9?'⁻':'')+substring('⁰¹²³⁴⁵⁶⁷⁸⁹',abs(round(log(datum.value)/LN10)),abs(round(log(datum.value)/LN10))+1)","tickSize":2.5,"labelOverlap":false,"labelBound":false,"labelPadding":1}}}},
               {"transform":[{"filter":"datum.k=='c'"}],"mark":{"type":"line","interpolate":"monotone","color":"black","strokeWidth":1.6},"encoding":{"x":{"field":"x","type":"quantitative","scale":{"type":"log"},"axis":{"orient":"bottom","title":null,"values":[0.02,0.03,0.04,0.05,0.06,0.07,0.08,0.09,0.2,0.3,0.4,0.5,0.6,0.7,0.8,0.9,2,3,4,5,6,7,8,9,20,30,40,50,60,70,80,90,200,300,400,500,600,700,800,900,2000,3000,4000,5000,6000,7000,8000,9000,20000,30000,40000,50000,60000,70000,80000,90000,200000,300000,400000,500000,600000,700000,800000,900000],"tickCount":100,"labels":false,"domain":false,"tickSize":1.5}},"y":{"field":"y","type":"quantitative","scale":{"type":"log"},"axis":{"orient":"left","title":null,"values":[20,30,40,50,60,70,80,90,200,300,400,500,600,700,800,900,2000,3000,4000,5000,6000,7000,8000,9000,20000,30000,40000,50000,60000,70000,80000,90000],"tickCount":100,"labels":false,"domain":false,"tickSize":1.5}}}},
               {"transform":[{"filter":"datum.k=='p'"}],"mark":{"type":"rule","strokeDash":[1.5,1.5],"strokeWidth":1,"color":"#333"},"encoding":{"x":{"field":"x","type":"quantitative","scale":{"type":"log"},"axis":null}}},
               {"transform":[{"filter":"datum.k=='a'"}],"mark":{"type":"rule","color":"black","strokeWidth":1},"encoding":{"x":{"field":"x","type":"quantitative","scale":{"type":"log"},"axis":null},"y":{"field":"y","type":"quantitative","scale":{"type":"log"},"axis":null},"y2":{"field":"y2"}}},
               {"transform":[{"filter":"datum.k=='a'"}],"mark":{"type":"point","shape":"triangle-up","filled":true,"color":"black","size":14,"opacity":1},"encoding":{"x":{"field":"x","type":"quantitative","scale":{"type":"log"},"axis":null},"y":{"field":"y2","type":"quantitative","scale":{"type":"log"},"axis":null}}},
               {"transform":[{"filter":"datum.k=='s'"}],"mark":{"type":"point","shape":"circle","filled":true,"fill":"white","stroke":"black","strokeWidth":0.9,"size":18,"opacity":1},"encoding":{"x":{"field":"x","type":"quantitative","scale":{"type":"log"},"axis":null},"y":{"field":"y","type":"quantitative","scale":{"type":"log"},"axis":null}}},
               {"transform":[{"filter":"datum.k=='r1'||datum.k=='r2'||datum.k=='r3'"}],"mark":{"type":"point","filled":true,"color":"black","size":20,"opacity":1},"encoding":{"x":{"field":"x","type":"quantitative","scale":{"type":"log"},"axis":null},"y":{"field":"y","type":"quantitative","scale":{"type":"log"},"axis":null},"shape":{"field":"k","type":"nominal","scale":{"domain":["r1","r2","r3"],"range":["triangle-up","square","diamond"]},"legend":null}}}
             ]}}
          ],"spacing":23}
        ],"spacing":7}
      ],"spacing":6},
      {"width":338,"height":1,"data":{"values":[]},"mark":"point","view":{"fill":"#404040","stroke":null}}
    ],"spacing":0},
    {"width":1,"height":404,"data":{"values":[]},"mark":"point","view":{"fill":"#404040","stroke":null}}
   ],"spacing":0}
 ],"spacing":8},
 {"width":1,"height":24,
  "layer":[
   {"data":{"values":[{"item":"5ᵗʰ percentile"},{"item":"95ᵗʰ percentile"},{"item":"Plasma control median"}]},
    "mark":{"type":"point","opacity":0,"filled":false,"color":"black","strokeWidth":1},
    "encoding":{"shape":{"field":"item","type":"nominal","scale":{"domain":["5ᵗʰ percentile","95ᵗʰ percentile","Plasma control median"],"range":["M0.5,-1L0.5,-0.8M0.5,-0.6L0.5,-0.4M0.5,-0.2L0.5,0M0.5,0.2L0.5,0.4M0.5,0.6L0.5,0.8","M0.5,-1L0.5,-0.8M0.5,-0.6L0.5,-0.4M0.5,-0.2L0.5,0M0.5,0.2L0.5,0.4M0.5,0.6L0.5,0.8","M0.5,1L0.5,-0.5M0.2,-0.4L0.5,-1L0.8,-0.4Z"]},
      "legend":{"title":null,"orient":"none","legendX":152,"legendY":2,"direction":"horizontal","symbolSize":144,"labelOffset":2,"columnPadding":3,"labelFont":"Liberation Sans","labelFontSize":8.5,"labelFontWeight":"bold","labelColor":"black","labelLimit":300,"symbolStrokeColor":"black","symbolStrokeWidth":1,
        "encode":{"symbols":{"update":{"opacity":{"value":1},"stroke":{"value":"black"},"strokeWidth":{"value":1}}}}}}}},
   {"data":{"values":[{"item":"Recombinant control 1"},{"item":"Recombinant control 2"},{"item":"Recombinant control 3"}]},
    "mark":{"type":"point","opacity":0,"filled":true,"color":"black"},
    "encoding":{"shape":{"field":"item","type":"nominal","scale":{"domain":["Recombinant control 1","Recombinant control 2","Recombinant control 3"],"range":["triangle-up","square","diamond"]},
      "legend":{"title":null,"orient":"none","legendX":120,"legendY":18,"direction":"horizontal","symbolSize":25,"labelOffset":3,"columnPadding":11,"labelFont":"Liberation Sans","labelFontSize":8.5,"labelFontWeight":"bold","labelColor":"black","labelLimit":300,
        "encode":{"symbols":{"update":{"opacity":{"value":1},"fill":{"value":"black"}}}}}}}}
  ],
  "resolve":{"scale":{"shape":"independent"},"legend":{"shape":"independent"}}}
],
"spacing":0
}
